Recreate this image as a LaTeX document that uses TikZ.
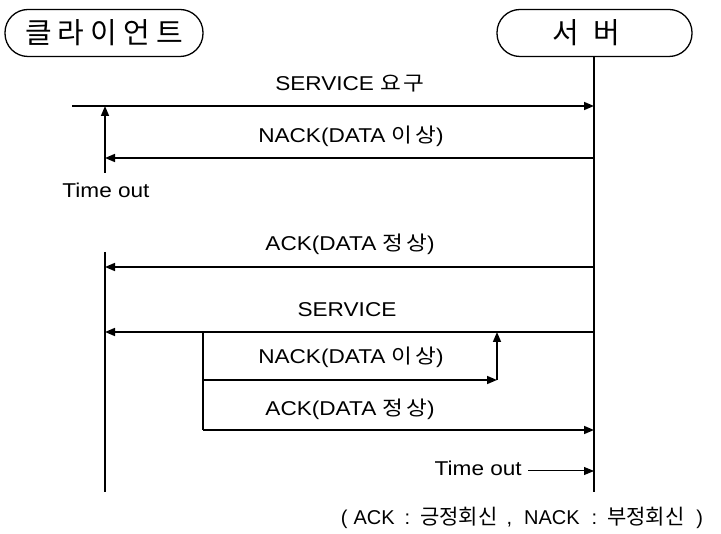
\documentclass[tikz,border=0pt]{standalone}
\usepackage{fontspec}
\usepackage{graphicx}
\setmainfont{Liberation Sans}
\newfontfamily\kr{Noto Sans CJK KR}
\usetikzlibrary{arrows.meta}
\newcommand\ks{\hspace{2.5pt}}
\newcommand\lab[1]{\scalebox{1.13}[1]{#1}}
\newcommand\fk[1]{{\kr\fontsize{21}{23}\selectfont #1}}
\tikzset{
  actor/.style={draw, line width=1.3pt, rounded corners=23pt, minimum height=47pt, inner sep=0pt},
  msg/.style={line width=1.5pt, -{Triangle[length=10pt,width=8pt]}},
  line/.style={line width=1.5pt},
  lbl/.style={font=\fontsize{20}{23}\selectfont, inner sep=0pt},
}
\begin{document}
\begin{tikzpicture}[x=1pt,y=-1pt]
\useasboundingbox (0,0) rectangle (721,534);
% actors
\node[actor, minimum width=198pt] (cl) at (104,33) {\kr\fontsize{29}{32}\selectfont 클\hspace{6pt}라\hspace{6pt}이\hspace{6pt}언\hspace{6pt}트};
\node[actor, minimum width=195pt] (sv) at (594.5,33) {\kr\fontsize{29}{32}\selectfont 서\hspace{15pt}버\hspace*{16pt}};
% coordinates
\coordinate (svtop) at (594,57);
\coordinate (svbot) at (594,492);
\coordinate (cltop) at (105,252);
\coordinate (clbot) at (105,492);
\coordinate (a1s) at (72,106);   \coordinate (a1e) at (594,106);
\coordinate (a2s) at (594,158);  \coordinate (a2e) at (105,158);
\coordinate (t1s) at (105,173);  \coordinate (t1e) at (105,106);
\coordinate (a3s) at (594,267);  \coordinate (a3e) at (105,267);
\coordinate (a4s) at (594,332);  \coordinate (a4e) at (105,332);
\coordinate (v1s) at (203,332);  \coordinate (v1e) at (203,430);
\coordinate (a5s) at (203,380);  \coordinate (a5e) at (497,380);
\coordinate (a6e) at (497,332);
\coordinate (a7s) at (203,430);  \coordinate (a7e) at (594,430);
\coordinate (a8e) at (594,471);
% lifelines
\draw[line] (svtop) -- (svbot);
\draw[line] (cltop) -- (clbot);
\draw[line] (v1s) -- (v1e);
% messages
\draw[msg] (a1s) -- (a1e);
\draw[msg] (a2s) -- (a2e);
\draw[msg] (t1s) -- (t1e);
\draw[msg] (a3s) -- (a3e);
\draw[msg] (a4s) -- (a4e);
\draw[msg] (a5s) -- (a5e);
\draw[msg] (a5e) -- (a6e);
\draw[msg] (a7s) -- (a7e);
% labels
\node[lbl] (l1) at (350,84) {\lab{SERVICE {\kr 요\ks 구}}};
\node[lbl] (l2) at (351,136) {\lab{NACK(DATA {\kr 이\ks 상})}};
\node[lbl] (l3) at (106,190) {\lab{Time out}};
\node[lbl] (l4) at (350,244) {\lab{ACK(DATA {\kr 정\ks 상})}};
\node[lbl] (l5) at (347,310) {\lab{SERVICE}};
\node[lbl] (l6) at (351,357) {\lab{NACK(DATA {\kr 이\ks 상})}};
\node[lbl] (l7) at (350,409) {\lab{ACK(DATA {\kr 정\ks 상})}};
\node[lbl, anchor=east] (l8) at (522,468) {\lab{Time out}};
\draw[line width=1pt, -{Triangle[length=10pt,width=8pt]}] ([xshift=6pt]l8.east |- a8e) -- (a8e);
\node[lbl] (l9) at (522,518) {(\hspace{6pt}ACK\hspace{10pt}:\hspace{10pt}\fk{긍정회신}\hspace{9pt},\hspace{12pt}NACK\hspace{12pt}:\hspace{10pt}\fk{부정회신}\hspace{12pt})};
\end{tikzpicture}
\end{document}
